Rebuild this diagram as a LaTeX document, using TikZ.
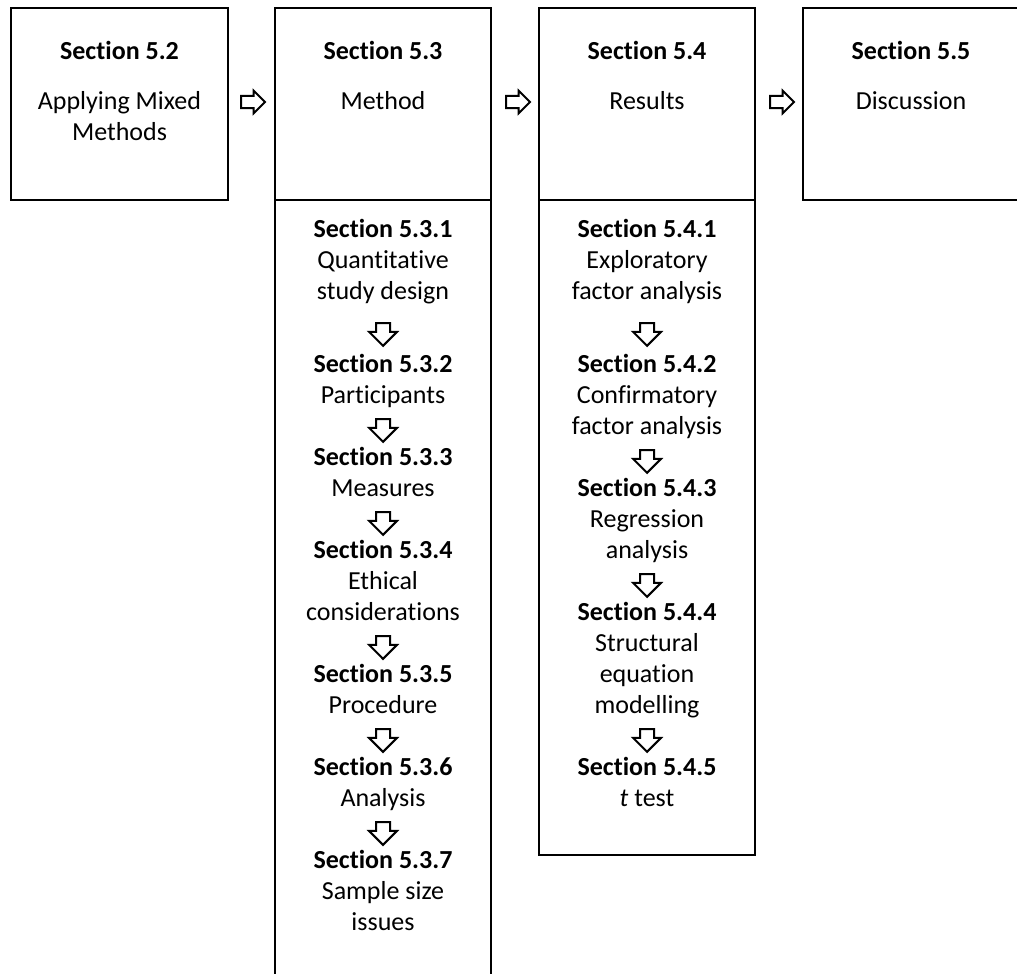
\documentclass[tikz,border=0pt]{standalone}
\usepackage{fontspec}
\setmainfont{Carlito}[Ligatures=NoCommon]
\usetikzlibrary{shapes.arrows}

\begin{document}
\begin{tikzpicture}[x=0.75pt,y=-0.75pt,
    box/.style={draw, line width=1.6pt},
    txt/.style={align=center, inner sep=0pt, anchor=north, font=\fontsize{19.5}{23.25}\selectfont},
    title/.style={inner sep=0pt, anchor=base, font=\fontsize{19.5}{23.25}\selectfont\bfseries},
    rarrow/.style={draw, single arrow, line width=1.5pt, inner sep=3.75pt, minimum height=18pt, single arrow head extend=4pt},
    darrow/.style={draw, single arrow, shape border rotate=270, line width=1.5pt, inner sep=4.5pt, minimum height=17pt, single arrow head extend=5.25pt}]
    \useasboundingbox (0,0) rectangle (1017,974);

    % Boxes
    \draw[box] (11,8) rectangle (228,200);
    \draw[box] (275,8) rectangle (491,200);
    \draw[box] (275,200) rectangle (491,990);
    \draw[box] (539,8) rectangle (755,200);
    \draw[box] (539,200) rectangle (755,855);
    \draw[box] (803,8) rectangle (1030,200);

    % Top row
    \node[title] (t52) at (119.5,60) {Section 5.2};
    \node[txt] (d52) at (119.5,88) {\strut Applying Mixed\\Methods};
    \node[title] (t53) at (383,60) {Section 5.3};
    \node[txt] (d53) at (383,88) {\strut Method};
    \node[title] (t54) at (647,60) {Section 5.4};
    \node[txt] (d54) at (647,88) {\strut Results};
    \node[title] (t55) at (911,60) {Section 5.5};
    \node[txt] (d55) at (911,88) {\strut Discussion};

    \node[rarrow] (r1) at (250,102) {};
    \node[rarrow] (r2) at (515,102) {};
    \node[rarrow] (r3) at (779,102) {};

    % Method column
    \foreach \y/\txt in {216/{\textbf{Section 5.3.1}\\Quantitative\\study design},
        351/{\textbf{Section 5.3.2}\\Participants},
        444/{\textbf{Section 5.3.3}\\Measures},
        537/{\textbf{Section 5.3.4}\\Ethical\\considerations},
        661/{\textbf{Section 5.3.5}\\Procedure},
        754/{\textbf{Section 5.3.6}\\Analysis},
        847/{\textbf{Section 5.3.7}\\Sample size\\issues}}
        \node[txt] (m\y) at (383,\y) {\strut\txt};
    \foreach \y in {331,427,520,644,737,830}
        \node[darrow] (ma\y) at (383,\y) {};

    % Results column
    \foreach \y/\txt in {216/{\textbf{Section 5.4.1}\\Exploratory\\factor analysis},
        351/{\textbf{Section 5.4.2}\\Confirmatory\\factor analysis},
        475/{\textbf{Section 5.4.3}\\Regression\\analysis},
        599/{\textbf{Section 5.4.4}\\Structural\\equation\\modelling},
        754/{\textbf{Section 5.4.5}\\\textit{t} test}}
        \node[txt] (s\y) at (647,\y) {\strut\txt};
    \foreach \y in {331,458,582,737}
        \node[darrow] (sa\y) at (647,\y) {};

\end{tikzpicture}
\end{document}
